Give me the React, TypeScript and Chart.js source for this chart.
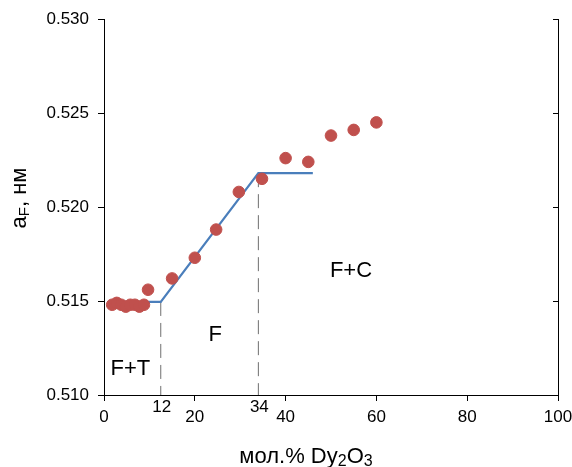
import React, { useEffect, useRef } from "react";
import { Chart, registerables } from "chart.js";

Chart.register(...registerables);

const pointX = [1.8, 2.8, 3.8, 4.8, 5.8, 6.8, 7.8, 8.8, 9.7, 15, 20, 24.7, 29.7, 34.8, 40, 45, 50, 55, 60];
const pointY = [0.5148, 0.5149, 0.5148, 0.5147, 0.5148, 0.5148, 0.5147, 0.5148, 0.5156, 0.5162, 0.5173, 0.5188, 0.5208, 0.5215, 0.5226, 0.5224, 0.5238, 0.5241, 0.5245];
const lineX = [1.5, 12.5, 34, 46];
const lineY = [0.51495, 0.51495, 0.5218, 0.5218];
const boundaryX = [12.5, 34];
const boundaryTop = [0.51495, 0.5218];
const yTicks = [0.51, 0.515, 0.52, 0.525, 0.53];
const extraXLabels = ["12", "34"];
const regionLabels = ["F+T", "F", "F+C"];
const regionX = [5.8, 24.5, 54.4];
const regionY = [0.5114, 0.5132, 0.5166];

const FONT = "'Liberation Sans', Arial, sans-serif";

function drawParts(ctx: CanvasRenderingContext2D, parts: { t: string; sub?: boolean }[], cx: number, cy: number, big: number, small: number) {
  let total = 0;
  for (const p of parts) {
    ctx.font = `${p.sub ? small : big}px ${FONT}`;
    total += ctx.measureText(p.t).width;
  }
  let x = cx - total / 2;
  ctx.textAlign = "left";
  ctx.textBaseline = "alphabetic";
  for (const p of parts) {
    ctx.font = `${p.sub ? small : big}px ${FONT}`;
    ctx.fillText(p.t, x, cy + (p.sub ? 3 : 0));
    x += ctx.measureText(p.t).width;
  }
}

const overlay = {
  id: "overlay",
  afterDraw(chart: any) {
    const ctx = chart.ctx as CanvasRenderingContext2D;
    const xs = chart.scales.x;
    const ys = chart.scales.y;
    const area = chart.chartArea;
    ctx.save();
    ctx.strokeStyle = "#000";
    ctx.lineWidth = 1;
    for (const v of yTicks) {
      const py = Math.round(ys.getPixelForValue(v)) + 0.5;
      ctx.beginPath();
      ctx.moveTo(area.right - 5, py);
      ctx.lineTo(area.right, py);
      ctx.stroke();
    }
    ctx.fillStyle = "#000";
    ctx.font = `17px ${FONT}`;
    ctx.textAlign = "center";
    ctx.textBaseline = "middle";
    boundaryX.forEach((v, i) => {
      ctx.fillText(extraXLabels[i], xs.getPixelForValue(v) + 1, 407);
    });
    ctx.font = `22px ${FONT}`;
    regionLabels.forEach((t, i) => {
      ctx.fillText(t, xs.getPixelForValue(regionX[i]), ys.getPixelForValue(regionY[i]));
    });
    drawParts(ctx, [{ t: "мол.% Dy" }, { t: "2", sub: true }, { t: "O" }, { t: "3", sub: true }], 306, 463, 22, 16);
    ctx.translate(26, 198);
    ctx.rotate(-Math.PI / 2);
    drawParts(ctx, [{ t: "a" }, { t: "F", sub: true }, { t: ", нм" }], 0, 0, 22, 15);
    ctx.restore();
  },
};

export default function App() {
  const ref = useRef<HTMLCanvasElement>(null);
  useEffect(() => {
    document.body.style.margin = "0";
    const canvas = ref.current!;
    const tickFont = { family: FONT, size: 17 };
    const chart = new Chart(canvas, {
      type: "scatter",
      data: {
        datasets: [
          {
            data: pointX.map((x, i) => ({ x, y: pointY[i] })),
            backgroundColor: "rgb(192,80,77)",
            borderColor: "rgb(192,80,77)",
            pointRadius: 5.8,
            showLine: false,
          },
          {
            data: lineX.map((x, i) => ({ x, y: lineY[i] })),
            borderColor: "rgb(74,126,187)",
            borderWidth: 2.2,
            pointRadius: 0,
            showLine: true,
          },
          ...boundaryX.map((x, i) => ({
            data: [
              { x, y: boundaryTop[i] },
              { x, y: 0.51 },
            ],
            borderColor: "#6f6f6f",
            borderWidth: 1,
            borderDash: [14, 7],
            pointRadius: 0,
            showLine: true,
          })),
        ],
      },
      options: {
        responsive: false,
        animation: false,
        devicePixelRatio: 1,
        layout: { padding: { top: 19, left: 0, right: 0, bottom: 0 } },
        plugins: { legend: { display: false }, tooltip: { enabled: false } },
        scales: {
          x: {
            type: "linear",
            min: 0,
            max: 100,
            ticks: { stepSize: 20, color: "#000", font: tickFont, padding: 6, maxRotation: 0 },
            grid: { drawOnChartArea: false, color: "#000", tickColor: "#000", tickLength: 6 },
            border: { color: "#000", width: 1 },
            afterFit: (s: any) => { s.height = 72; s.paddingLeft = 0; s.paddingRight = 0; },
          },
          y: {
            type: "linear",
            position: "left",
            min: 0.51,
            max: 0.53,
            ticks: { stepSize: 0.005, color: "#000", font: tickFont, padding: 9, callback: (v: any) => Number(v).toFixed(3) },
            grid: { drawOnChartArea: false, color: "#000", tickColor: "#000", tickLength: 6 },
            border: { color: "#000", width: 1 },
            afterFit: (s: any) => { s.width = 104; s.paddingTop = 0; s.paddingBottom = 0; },
          },
          y2: {
            type: "linear",
            position: "right",
            min: 0.51,
            max: 0.53,
            ticks: { display: false },
            grid: { display: false },
            border: { display: true, color: "#000", width: 1 },
            afterFit: (s: any) => { s.width = 14; s.paddingTop = 0; s.paddingBottom = 0; },
          },
        },
      },
      plugins: [overlay],
    } as any);
    return () => chart.destroy();
  }, []);
  return <canvas ref={ref} width={572} height={467} style={{ display: "block" }} />;
}
